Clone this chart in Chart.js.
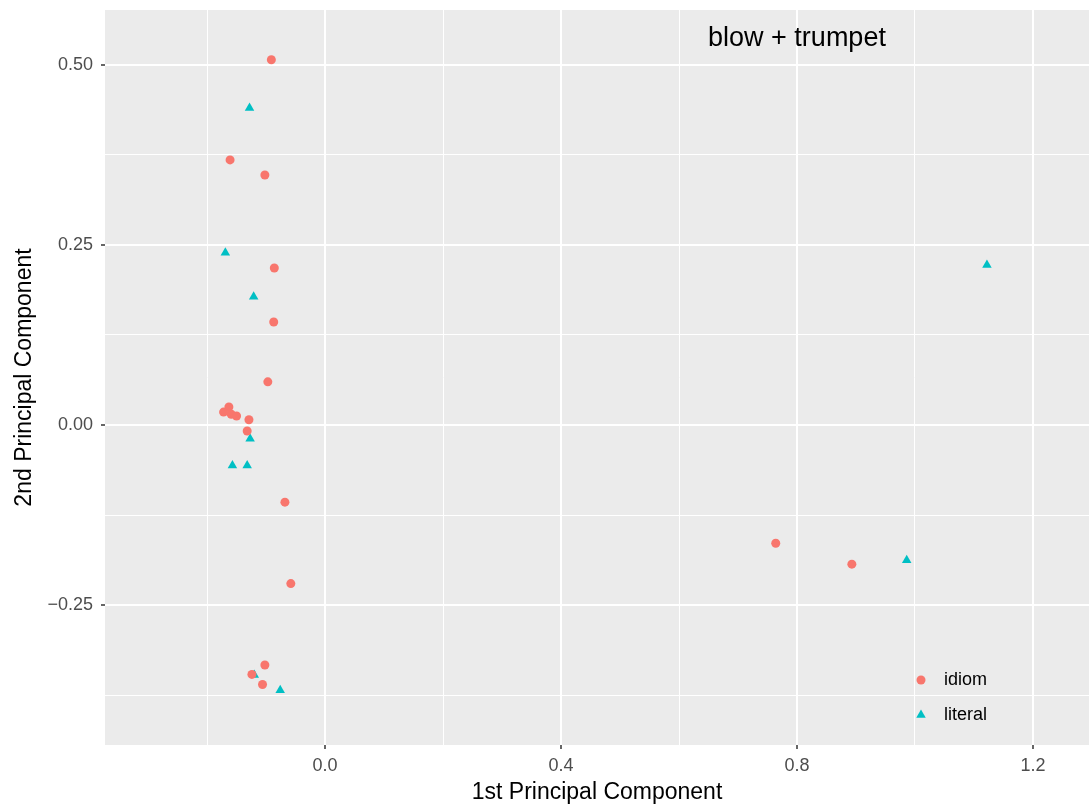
<!DOCTYPE html>
<html>
<head>
<meta charset="utf-8">
<script src="https://cdn.jsdelivr.net/npm/chart.js@4/dist/chart.umd.min.js"></script>
<style>
html, body { margin: 0; padding: 0; background: #fff; }
</style>
</head>
<body>
<canvas id="chart1" width="1089" height="809"></canvas>
<script>
const idiomX = [-0.091, -0.161, -0.102, -0.086, -0.087, -0.097, -0.163, -0.172, -0.159, -0.150,
                -0.129, -0.132, -0.068, -0.058, -0.102, -0.124, -0.106, 0.764, 0.893];
const idiomY = [0.507, 0.368, 0.347, 0.218, 0.143, 0.060, 0.025, 0.018, 0.015, 0.0125,
                0.0074, -0.0083, -0.107, -0.220, -0.333, -0.346, -0.360, -0.164, -0.193];

const literalX = [-0.128, -0.169, -0.121, -0.127, -0.157, -0.132, -0.120, -0.076, 0.986, 1.122];
const literalY = [0.440, 0.239, 0.178, -0.019, -0.056, -0.056, -0.347, -0.368, -0.1875, 0.222];

const xMajor = [0, 0.4, 0.8, 1.2];
const xMajorLabels = ["0.0", "0.4", "0.8", "1.2"];
const xMinor = [-0.2, 0.2, 0.6, 1.0];

const yMajor = [-0.25, 0, 0.25, 0.5];
const yMajorLabels = ["\u22120.25", "0.00", "0.25", "0.50"];
const yMinor = [-0.375, -0.125, 0.125, 0.375];

const seriesNames = ["idiom", "literal"];
const panelTitle = "blow + trumpet";

const FONT = "'Liberation Sans', Arial, sans-serif";
const RED = "#F8766D";
const TEAL = "#00BFC4";

function pts(xs, ys) {
    return xs.map(function (x, i) { return { x: x, y: ys[i] }; });
}
function findIdx(list, v) {
    for (var i = 0; i < list.length; i++) {
        if (Math.abs(list[i] - v) < 1e-9) return i;
    }
    return -1;
}
function gridFor(major) {
    return {
        drawOnChartArea: true,
        drawTicks: true,
        tickLength: 4,
        tickWidth: 1.5,
        tickColor: function (c) { return findIdx(major, c.tick.value) >= 0 ? "#333333" : "rgba(0,0,0,0)"; },
        color: "#FFFFFF",
        lineWidth: function (c) { return findIdx(major, c.tick.value) >= 0 ? 2 : 1; },
    };
}
// no extra room for edge labels, the panel is fixed by layout padding
function noEdgePadding(s) {
    s.paddingLeft = 0;
    s.paddingRight = 0;
    s.paddingTop = 0;
    s.paddingBottom = 0;
}

const panelBg = {
    id: "panelBg",
    beforeDraw: function (chart) {
        var a = chart.chartArea, ctx = chart.ctx;
        ctx.save();
        ctx.fillStyle = "#EBEBEB";
        ctx.fillRect(a.left, a.top, a.right - a.left, a.bottom - a.top);
        ctx.restore();
    },
    afterDraw: function (chart) {
        var ctx = chart.ctx;
        var xs = chart.scales.x, ys = chart.scales.y;
        ctx.save();
        // panel label
        ctx.fillStyle = "#000";
        ctx.font = "27px " + FONT;
        ctx.textAlign = "center";
        ctx.textBaseline = "middle";
        ctx.fillText(panelTitle, xs.getPixelForValue(0.8), ys.getPixelForValue(0.536));

        // legend inside panel
        var lx = 921, ly = [680, 715];
        chart.data.datasets.forEach(function (ds, i) {
            ctx.fillStyle = ds.backgroundColor;
            ctx.strokeStyle = ds.backgroundColor;
            Chart.helpers.drawPoint(ctx, {
                pointStyle: ds.pointStyle, radius: ds.pointRadius, rotation: 0, borderWidth: 0
            }, lx, ly[i]);
            ctx.fillStyle = "#000";
            ctx.font = "18px " + FONT;
            ctx.textAlign = "left";
            ctx.textBaseline = "middle";
            ctx.fillText(ds.label, 944, ly[i]);
        });
        ctx.restore();
    },
};

const chart1 = document.querySelectorAll("#chart1");

chart1.forEach(function (chart) {
    var ctx = chart.getContext("2d");
    var myChart = new Chart(ctx, {
        type: "scatter",
        data: {
            datasets: [
                {
                    label: seriesNames[0],
                    data: pts(idiomX, idiomY),
                    backgroundColor: RED,
                    borderColor: RED,
                    borderWidth: 0,
                    pointStyle: "circle",
                    pointRadius: 4.5,
                },
                {
                    label: seriesNames[1],
                    data: pts(literalX, literalY),
                    backgroundColor: TEAL,
                    borderColor: TEAL,
                    borderWidth: 0,
                    pointStyle: "triangle",
                    pointRadius: 5.5,
                },
            ],
        },
        options: {
            responsive: false,
            animation: false,
            devicePixelRatio: 1,
            layout: { autoPadding: false, padding: { top: 10, right: 0, left: 0, bottom: 0 } },
            plugins: {
                legend: { display: false },
                tooltip: { enabled: false },
            },
            scales: {
                x: {
                    type: "linear",
                    min: -0.373,
                    max: 1.295,
                    afterFit: function (s) { s.height = 64; noEdgePadding(s); },
                    afterBuildTicks: function (s) {
                        s.ticks = xMajor.concat(xMinor).map(function (v) { return { value: v }; });
                    },
                    ticks: {
                        autoSkip: false,
                        maxRotation: 0,
                        padding: 6,
                        color: "#4D4D4D",
                        font: { family: FONT, size: 18 },
                        callback: function (v) {
                            var i = findIdx(xMajor, v);
                            return i >= 0 ? xMajorLabels[i] : "";
                        },
                    },
                    grid: gridFor(xMajor),
                    border: { display: false },
                    title: {
                        display: true,
                        text: "1st Principal Component",
                        color: "#000",
                        font: { family: FONT, size: 23 },
                        padding: { top: 0, bottom: 3 },
                    },
                },
                y: {
                    type: "linear",
                    min: -0.444,
                    max: 0.576,
                    afterFit: function (s) { s.width = 105; noEdgePadding(s); },
                    afterBuildTicks: function (s) {
                        s.ticks = yMajor.concat(yMinor).map(function (v) { return { value: v }; });
                    },
                    ticks: {
                        autoSkip: false,
                        padding: 8,
                        color: "#4D4D4D",
                        font: { family: FONT, size: 18 },
                        callback: function (v) {
                            var i = findIdx(yMajor, v);
                            return i >= 0 ? yMajorLabels[i] : "";
                        },
                    },
                    grid: gridFor(yMajor),
                    border: { display: false },
                    title: {
                        display: true,
                        text: "2nd Principal Component",
                        color: "#000",
                        font: { family: FONT, size: 23 },
                        padding: { top: 11, bottom: 0 },
                    },
                },
            },
        },
        plugins: [panelBg],
    });
});
</script>
</body>
</html>
